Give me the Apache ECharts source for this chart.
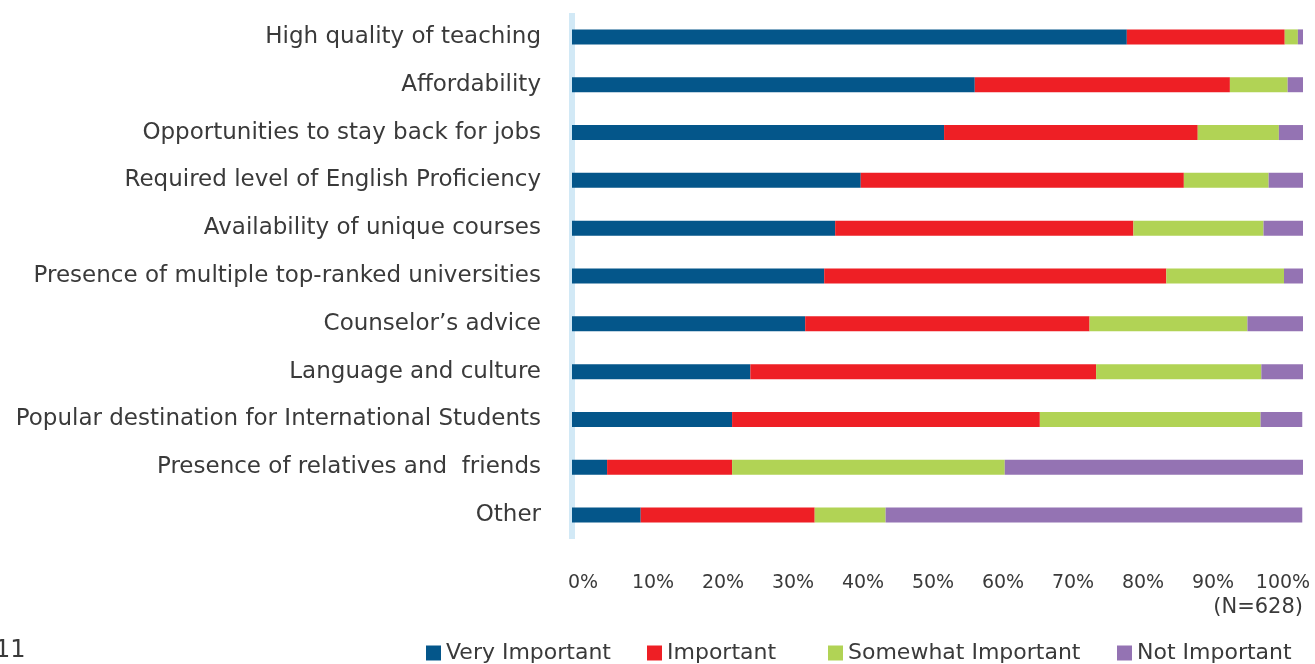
<!DOCTYPE html>
<html>
<head>
<meta charset="utf-8">
<script src="https://cdn.jsdelivr.net/npm/echarts@6/dist/echarts.min.js"></script>
<style>
	html, body { margin: 0; padding: 0; background: #fff; }
	#chart { width: 1315px; height: 664px; }
</style>
</head>
<body>
<div id="chart"></div>
<script>
	// 分类（从上到下）
	const categories = [
		'High quality of teaching',
		'Affordability',
		'Opportunities to stay back for jobs',
		'Required level of English Proficiency',
		'Availability of unique courses',
		'Presence of multiple top-ranked universities',
		'Counselor’s advice',
		'Language and culture',
		'Popular destination for International Students',
		'Presence of relatives and  friends',
		'Other'
	]
	const seriesNames = ['Very Important', 'Important', 'Somewhat Important', 'Not Important']
	const veryImportant = [75.9, 55.1, 50.9, 39.5, 36.0, 34.5, 31.9, 24.4, 21.9, 4.8, 9.4]
	const important = [21.6, 34.9, 34.7, 44.2, 40.8, 46.8, 38.9, 47.3, 42.1, 17.1, 23.8]
	const somewhatImportant = [1.8, 7.9, 11.1, 11.6, 17.8, 16.1, 21.6, 22.6, 30.2, 37.3, 9.7]
	const notImportant = [0.7, 2.1, 3.3, 4.7, 5.5, 2.6, 7.7, 5.7, 5.7, 40.8, 57.0]
	const tickLabels = ['0%', '10%', '20%', '30%', '40%', '50%', '60%', '70%', '80%', '90%', '100%']

	const colors = ['#04568a', '#ee1f25', '#b1d355', '#9473b3']
	const font = '"DejaVu Sans", "Open Sans", sans-serif'
	const textColor = '#3a3a3a'

	const myChart = echarts.init(document.getElementById('chart'))

	const values = [veryImportant, important, somewhatImportant, notImportant]
	const legendLeft = [426, 647, 828, 1117]

	const option = {
		animation: false,
		textStyle: { fontFamily: font },
		grid: [
			{ left: 572, right: 12, top: 13, height: 526 },
			// 刻度标签单独一套坐标（原图标签与条形并不对齐）
			{ left: 583, right: 32, top: 13, height: 526 }
		],
		legend: seriesNames.map((name, i) => ({
			data: [name],
			left: legendLeft[i],
			top: 642,
			icon: 'rect',
			itemWidth: 15,
			itemHeight: 15,
			padding: 0,
			textStyle: { fontFamily: font, fontSize: 22, color: textColor }
		})),
		xAxis: [{
			type: 'value',
			gridIndex: 0,
			min: 0,
			max: 100,
			axisLabel: { show: false },
			axisLine: { show: false },
			axisTick: { show: false },
			splitLine: { show: false }
		}, {
			type: 'value',
			gridIndex: 1,
			min: 0,
			max: 100,
			interval: 10,
			axisLine: { show: false },
			axisTick: { show: false },
			splitLine: { show: false },
			axisLabel: {
				margin: 35,
				fontSize: 19,
				fontFamily: font,
				color: textColor,
				formatter: v => tickLabels[Math.round(v / 10)]
			}
		}],
		yAxis: [{
			type: 'category',
			gridIndex: 0,
			inverse: true,
			data: categories,
			offset: 3,
			axisLine: { show: true, lineStyle: { color: '#d2e9f6', width: 6, cap: 'butt' } },
			axisTick: { show: false },
			axisLabel: { margin: 28, fontSize: 23, fontFamily: font, color: textColor }
		}, {
			type: 'category',
			gridIndex: 1,
			data: categories,
			show: false
		}],
		graphic: [{
			type: 'text',
			right: 12,
			top: 597,
			style: { text: '(N=628)', fontSize: 21, fontFamily: font, fill: textColor }
		}, {
			type: 'text',
			left: -5,
			top: 639,
			style: { text: '11', fontSize: 24, fontFamily: font, fill: textColor }
		}],
		series: seriesNames.map((name, i) => ({
			name: name,
			type: 'bar',
			stack: 'total',
			barWidth: 15,
			itemStyle: { color: colors[i] },
			data: values[i]
		}))
	}

	myChart.setOption(option)
</script>
</body>
</html>
